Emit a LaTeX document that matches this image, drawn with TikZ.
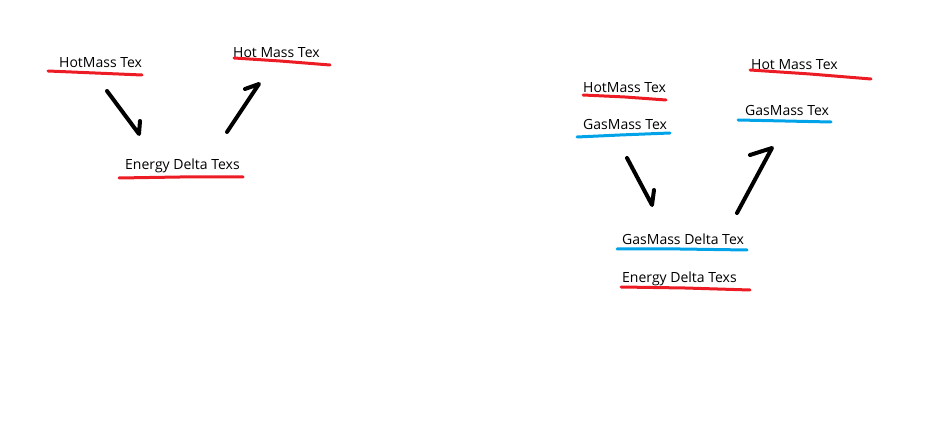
\documentclass[tikz,border=0pt]{standalone}
\usepackage{fontspec}
\setmainfont{Open Sans}
\definecolor{pred}{HTML}{ED1C24}
\definecolor{pblue}{HTML}{00A2E8}
\begin{document}
\begin{tikzpicture}[x=1pt,y=-1pt,
  lbl/.style={anchor=base west,inner sep=0pt,font=\fontsize{14}{16}\selectfont},
  redline/.style={draw=pred,line width=3pt,line cap=round,line join=round},
  blueline/.style={draw=pblue,line width=3pt,line cap=round,line join=round},
  stroke/.style={draw=black,line width=4pt,line cap=round,line join=round}]
\useasboundingbox (0,0) rectangle (926,430);
% left group
\node[lbl] (lhot) at (59,68) {HotMass Tex};
\node[lbl] (lhot2) at (233,58) {Hot Mass Tex};
\node[lbl] (lenergy) at (125,170) {Energy Delta Texs};
\draw[redline] (48,71) -- (95,73) -- (142,75);
\draw[redline] (234,58) -- (280,61) -- (330,65);
\draw[redline] (119,178) -- (180,177) -- (243,177);
\coordinate (a1s) at (107,91); \coordinate (a1e) at (139,134); \coordinate (a1b) at (140,121);
\draw[stroke] (a1s) -- (a1e) -- (a1b);
\coordinate (a2s) at (227,132); \coordinate (a2e) at (259,84); \coordinate (a2b) at (245,89);
\draw[stroke] (a2s) -- (a2e) -- (a2b);
% right group
\node[lbl] (rhot) at (583,93) {HotMass Tex};
\node[lbl] (rgas) at (583,130) {GasMass Tex};
\node[lbl] (rhot2) at (751,70) {Hot Mass Tex};
\node[lbl] (rgas2) at (745,116) {GasMass Tex};
\node[lbl] (rgasdelta) at (622,245) {GasMass Delta Tex};
\node[lbl] (renergy) at (622,283) {Energy Delta Texs};
\draw[redline] (583,95) -- (625,97) -- (666,100);
\draw[blueline] (577,137) -- (620,135) -- (670,133);
\draw[redline] (750,70) -- (810,74) -- (871,79);
\draw[blueline] (738,120) -- (785,121) -- (831,122);
\draw[blueline] (617,249) -- (680,249) -- (747,250);
\draw[redline] (621,287) -- (685,288) -- (750,290);
\coordinate (a3s) at (627,158); \coordinate (a3e) at (652,205); \coordinate (a3b) at (654,190);
\draw[stroke] (a3s) -- (a3e) -- (a3b);
\coordinate (a4s) at (737,213); \coordinate (a4e) at (772,148); \coordinate (a4b) at (750,155);
\draw[stroke] (a4s) -- (a4e) -- (a4b);
\end{tikzpicture}
\end{document}
